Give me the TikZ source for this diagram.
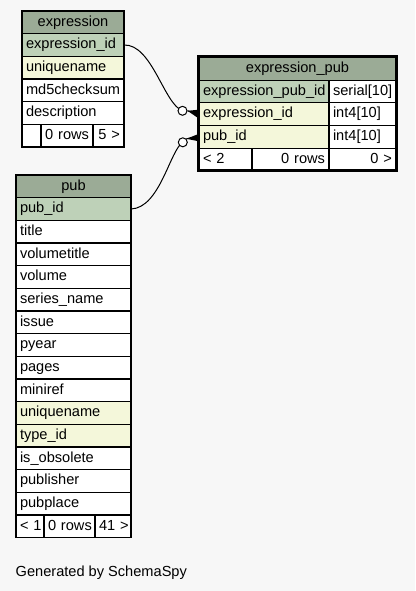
\documentclass[tikz,border=0pt]{standalone}
\usepackage{fontspec}
\setmainfont{Liberation Sans}
\newcommand\cellfnt{\fontsize{14.6}{17}\selectfont\hyphenpenalty=10000 \exhyphenpenalty=10000 }
\definecolor{bgc}{HTML}{F7F7F7}
\definecolor{hdr}{HTML}{9BAB96}
\definecolor{pkc}{HTML}{BED1B8}
\definecolor{idx}{HTML}{F4F7DA}
\tikzset{
  cell/.style={draw=black, line width=1.2pt, anchor=north west, minimum height=22.67pt,
    inner xsep=4pt, inner ysep=0pt, outer sep=0pt, text height=10.6pt, text depth=3.0pt,
    font=\cellfnt, fill=white},
  lw/.style={text width=#1, align=left},
  rw/.style={text width=#1, align=right},
  cw/.style={text width=#1, align=center},
  hd/.style={fill=hdr},
  pk/.style={fill=pkc},
  ix/.style={fill=idx},
  opt/.style={circle, draw=black, line width=1pt, fill=white, minimum size=9pt, inner sep=0pt},
  rel/.style={draw=black, line width=1pt},
}
\begin{document}
\begin{tikzpicture}[x=1pt,y=-1pt]
\useasboundingbox (0,0) rectangle (415,591);
\fill[bgc] (0,0) rectangle (415,591);

% ---- expression ----
\node[cell,hd,cw=94pt] (e-h)   at (22,11)    {expression};
\node[cell,pk,lw=94pt] (e-id)  at (22,33.67) {expression\_id};
\node[cell,ix,lw=94pt] (e-un)  at (22,56.33) {uniquename};
\node[cell,lw=94pt]    (e-md)  at (22,79)    {md5checksum};
\node[cell,lw=94pt]    (e-de)  at (22,101.67){description};
\node[cell,lw=11pt]    (e-f1)  at (22,124.33){};
\node[cell,rw=44pt]    (e-f2)  at (41,124.33){\mbox{0 rows}};
\node[cell,rw=23pt]    (e-f3)  at (93,124.33){\mbox{5 >}};

% ---- expression_pub ----
\node[cell,hd,cw=189pt] (x-h)  at (199,57.5)   {expression\_pub};
\node[cell,pk,lw=122pt] (x-id) at (199,80.17)  {expression\_pub\_id};
\node[cell,lw=59pt]     (x-idt) at (329,80.17) {serial[10]};
\node[cell,ix,lw=122pt] (x-eid) at (199,102.83){expression\_id};
\node[cell,lw=59pt]     (x-eidt) at (329,102.83){int4[10]};
\node[cell,ix,lw=122pt] (x-pid) at (199,125.5) {pub\_id};
\node[cell,lw=59pt]     (x-pidt) at (329,125.5){int4[10]};
\node[cell,lw=45pt]     (x-f1) at (199,148.17) {\mbox{< 2}};
\node[cell,rw=69pt]     (x-f2) at (252,148.17) {\mbox{0 rows}};
\node[cell,rw=59pt]     (x-f3) at (329,148.17) {\mbox{0 >}};
\draw[line width=3pt] (198.2,56.3) rectangle (396.8,170.4);

% ---- pub ----
\node[cell,hd,cw=107pt] (p-h)   at (16,175)    {pub};
\node[cell,pk,lw=107pt] (p-id)  at (16,197.67) {pub\_id};
\node[cell,lw=107pt]    (p-ti)  at (16,220.33) {title};
\node[cell,lw=107pt]    (p-vt)  at (16,243)    {volumetitle};
\node[cell,lw=107pt]    (p-vo)  at (16,265.67) {volume};
\node[cell,lw=107pt]    (p-sn)  at (16,288.33) {series\_name};
\node[cell,lw=107pt]    (p-is)  at (16,311)    {issue};
\node[cell,lw=107pt]    (p-py)  at (16,333.67) {pyear};
\node[cell,lw=107pt]    (p-pa)  at (16,356.33) {pages};
\node[cell,lw=107pt]    (p-mr)  at (16,379)    {miniref};
\node[cell,ix,lw=107pt] (p-un)  at (16,401.67) {uniquename};
\node[cell,ix,lw=107pt] (p-ty)  at (16,424.33) {type\_id};
\node[cell,lw=107pt]    (p-ob)  at (16,447)    {is\_obsolete};
\node[cell,lw=107pt]    (p-pu)  at (16,469.67) {publisher};
\node[cell,lw=107pt]    (p-pp)  at (16,492.33) {pubplace};
\node[cell,lw=20pt]     (p-f1)  at (16,515)    {\mbox{< 1}};
\node[cell,rw=43pt]     (p-f2)  at (44,515)    {\mbox{0 rows}};
\node[cell,rw=28pt]     (p-f3)  at (95,515)    {\mbox{41 >}};

% ---- relationships ----
\coordinate (k1) at (182.5,110.8);
\coordinate (k2) at (182.8,142.3);
\draw[rel] (e-id.east) .. controls (152,44) and (164,104) .. (k1);
\draw[rel] (p-id.east) .. controls (160,208) and (170,150) .. (k2);
\node[opt] (o1) at (k1) {};
\node[opt] (o2) at (k2) {};
% crow's feet
\fill[black] (o1.east) -- ([yshift=-4.5pt]x-eid.west) -- ([yshift=4.5pt]x-eid.west) -- cycle;
\draw[rel] (o1.east) -- (x-eid.west);
\fill[black] (o2.north east) -- ([yshift=-4.5pt]x-pid.west) -- ([yshift=3pt]x-pid.west) -- cycle;
\draw[rel] (o2.north east) -- (x-pid.west);

\node[anchor=west, inner sep=0pt, font=\cellfnt] (gen) at (15.5,573) {Generated by SchemaSpy};
\end{tikzpicture}
\end{document}
